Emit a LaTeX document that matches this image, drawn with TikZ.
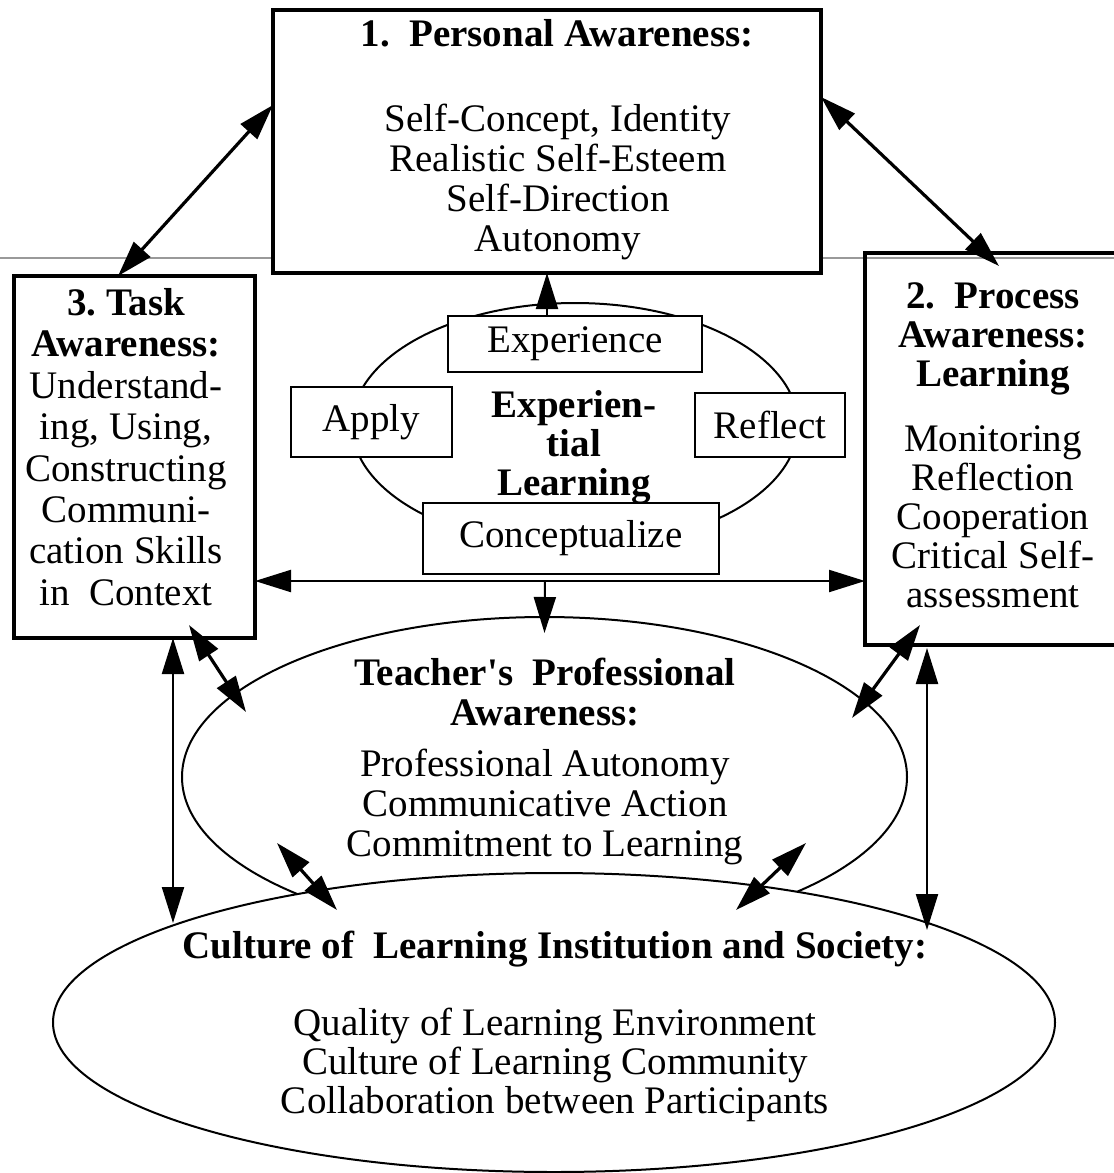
\documentclass[tikz,border=0pt]{standalone}
\usepackage{fontspec}
\setmainfont{Liberation Serif}
\usetikzlibrary{arrows.meta,shapes.geometric}
\frenchspacing
\colorlet{rulec}{black!40}
\tikzstyle{bigbox} = [draw, line width=4.5pt, inner sep=0pt, outer sep=0pt]
\tikzstyle{stage} = [draw, fill=white, line width=2.5pt, inner sep=0pt, outer sep=0pt,
  font=\fontsize{39}{40}\selectfont]
\tikzstyle{oval} = [draw, ellipse, line width=2pt, inner sep=0pt, outer sep=0pt]
\tikzstyle{txt} = [align=center, inner sep=0pt, font=\fontsize{39}{40}\selectfont]
\tikzstyle{link} = [line width=2.2pt]
\tikzstyle{heavy} = [line width=3.2pt]

\begin{document}
\begin{tikzpicture}[x=1pt, y=-1pt, >={Triangle[length=36pt,width=22pt]}]
      \useasboundingbox (0,0) rectangle (1114,1173);

      \draw[rulec, line width=1.5pt] (0,258) -- (1114,258);

      % Ellipses
      \node[oval, minimum width=725pt, minimum height=320pt] (teach) at (544.5,777) {};
      \node[oval, fill=white, minimum width=1002pt, minimum height=299pt] (cult) at (554,1022.5) {};
      \node[oval, minimum width=446pt, minimum height=244pt] (expe) at (575,425) {};

      % Boxes
      \node[bigbox, fill=white, minimum width=548pt, minimum height=263pt] (pers) at (547,141.5) {};
      \node[bigbox, minimum width=255pt, minimum height=392pt] (proc) at (992.5,449) {};
      \node[bigbox, minimum width=241pt, minimum height=362pt] (task) at (134.5,457) {};

      % Stages of the cycle
      \node[stage, minimum width=254pt, minimum height=56pt] (exper) at (575,344) {Experience};
      \node[stage, minimum width=161pt, minimum height=70pt] (apply) at (371.5,422) {Apply};
      \node[stage, minimum width=150pt, minimum height=64pt] (refl) at (770,425) {Reflect};
      \node[stage, minimum width=296pt, minimum height=71pt] (conc) at (571,538.5) {Conceptualize};

      % Arrows
      \draw[heavy, <->] ([shift={(-16.5,0)}]task.north) -- ([shift={(0,-36.5)}]pers.west);
      \draw[heavy, <->] ([shift={(0,-44.5)}]pers.east) -- ([shift={(6.5,13)}]proc.north);
      \draw[line width=2pt, ->] (exper.north -| pers.south) -- (pers.south);
      \coordinate (hub) at (545,581);
      \draw[link, <->] (task.east |- hub) -- (proc.west |- hub);
      \draw[line width=2pt, ->] (hub) -- ([shift={(0,16)}]teach.north);
      \draw[heavy, <->] ([shift={(54.5,-13)}]task.south) -- ([shift={(64,-65)}]teach.west);
      \draw[heavy, <->] ([shift={(-72.5,-20)}]proc.south) -- ([shift={(-55,-59)}]teach.east);
      \draw[heavy, <->] ([shift={(-267.5,66)}]teach.center) -- ([shift={(-217,37)}]cult.north);
      \draw[heavy, <->] ([shift={(261.5,66)}]teach.center) -- ([shift={(182,37)}]cult.north);
      \draw[link, <->] ([shift={(38.5,0)}]task.south) -- ([shift={(-381,-99.5)}]cult.center);
      \draw[link, <->] ([shift={(-65.5,3)}]proc.south) -- ([shift={(373,-92.5)}]cult.center);

      % Labels
      \node[txt] (persHead) at (557,33) {\textbf{1.~~Personal Awareness:}};
      \node[txt] (persBody) at (558,182) {Self-Concept, Identity\\Realistic Self-Esteem\\Self-Direction\\Autonomy};
      \node[txt, font=\fontsize{39}{41.4}\selectfont] (taskTxt) at (126,447)
        {\textbf{3. Task}\\\textbf{Awareness:}\\Understand-\\ing, Using,\\Constructing\\Communi-\\cation Skills\\in~~Context};
      \node[txt, font=\fontsize{39}{39}\selectfont] (procTxt) at (993,445)
        {\textbf{2.~~Process}\\\textbf{Awareness:}\\\textbf{Learning}\\[26pt]Monitoring\\Reflection\\Cooperation\\Critical Self-\\assessment};
      \node[txt, font=\fontsize{39}{39}\selectfont] (expeTxt) at (574,447)
        {\textbf{Experien-}\\\textbf{tial}\\\textbf{Learning}};
      \node[txt] (teachTxt) at (545,761)
        {\textbf{Teacher\textquotesingle s~~Professional}\\\textbf{Awareness:}\\[11pt]Professional Autonomy\\Communicative Action\\Commitment to Learning};
      \node[txt, font=\fontsize{39}{39}\selectfont] (cultTxt) at (555,1026)
        {\textbf{Culture of~~Learning Institution and Society:}\\[38pt]Quality of Learning Environment\\Culture of Learning Community\\Collaboration between Participants};
    \end{tikzpicture}
\end{document}
